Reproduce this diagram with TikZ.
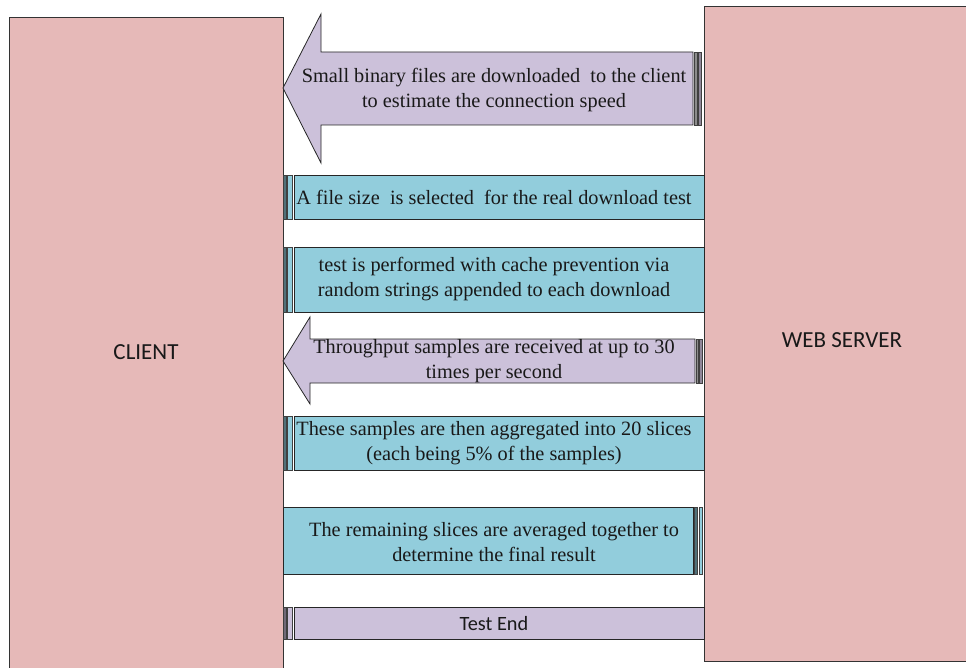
\documentclass[tikz,border=0pt]{standalone}
\usepackage{fontspec}
\setmainfont{Liberation Serif}
\newfontfamily\labelfont{Carlito}
\begin{document}
\begin{tikzpicture}[x=1pt,y=-1pt,
  party/.style={draw=black!80,line width=0.9pt,fill=pinkbox},
  flowleft/.style={draw=black!85,line width=0.8pt,fill=lilac},
  stepbox/.style={draw=black!85,line width=0.8pt},
  stripe/.style={draw=black!75,line width=0.5pt},
  msg/.style={font=\fontsize{20.3}{24.5}\selectfont,align=center,text=black!90,inner sep=0pt},
  side/.style={font=\labelfont\fontsize{23}{26}\selectfont,text=black!90}]
\definecolor{pinkbox}{HTML}{E6B9B8}
\definecolor{lilac}{HTML}{CCC1DA}
\definecolor{tealbox}{HTML}{92CDDC}
\useasboundingbox (0,0) rectangle (966,668);

% client and server columns
\begin{scope}
\clip (0,0) rectangle (966,668);
\draw[party] (9,17) rectangle (283,680);
\draw[party] (704,6) rectangle (980,661);
\end{scope}
\node[side] (client) at (146,352) {CLIENT};
\node[side] (server) at (842,340) {WEB SERVER};

% 1: striped arrow towards the client
\draw[flowleft] (283,88) -- (321,14) -- (321,52) -- (693,52) -- (693,125)
  -- (321,125) -- (321,163) -- cycle;
\draw[stripe,fill=black!45] (694.5,52) rectangle (697,125);
\draw[stripe,fill=lilac!70!black] (698.5,52) rectangle (701.5,125);
\node[msg] (m1) at (494,90) {Small binary files are downloaded\ \ to the client\\to estimate the connection speed};

% 2: file size selection
\draw[stripe,fill=tealbox!55!black] (283,175) rectangle (286,219);
\draw[stripe,fill=tealbox] (287.5,175) rectangle (292.5,219);
\draw[stepbox,fill=tealbox] (294,175) rectangle (704,219);
\node[msg] (m2) at (494,197) {A file size\ \ is selected\ \ for the real download test};

% 3: cache prevention
\draw[stripe,fill=tealbox!55!black] (283,247) rectangle (286,312);
\draw[stripe,fill=tealbox] (287.5,247) rectangle (292.5,312);
\draw[stepbox,fill=tealbox] (294,247) rectangle (704,312);
\node[msg] (m3) at (494,279) {test is performed with cache prevention via\\random strings appended to each download};

% 4: throughput samples arrow
\draw[flowleft] (283,361) -- (310,317) -- (310,339) -- (695,339) -- (695,383)
  -- (310,383) -- (310,404) -- cycle;
\draw[stripe,fill=black!45] (696,339) rectangle (698.5,383);
\draw[stripe,fill=lilac!70!black] (699.5,339) rectangle (702.5,383);
\node[msg] (m4) at (494,361) {Throughput samples are received at up to 30\\times per second};

% 5: aggregation into slices
\draw[stripe,fill=tealbox!55!black] (283,416) rectangle (286,470);
\draw[stripe,fill=tealbox] (287.5,416) rectangle (292.5,470);
\draw[stepbox,fill=tealbox] (294,416) rectangle (704,470);
\node[msg] (m5) at (494,443) {These samples are then aggregated into 20 slices\\(each being 5\% of the samples)};

% 6: averaging
\draw[stepbox,fill=tealbox] (283,507) rectangle (693,574);
\draw[stripe,fill=tealbox!55!black] (694.5,507) rectangle (697.5,574);
\draw[stripe,fill=tealbox] (699,507) rectangle (702.5,574);
\node[msg] (m6) at (494,542) {The remaining slices are averaged together to\\determine the final result};

% 7: end of test
\draw[stripe,fill=lilac!55!black] (283,607) rectangle (286,639);
\draw[stripe,fill=lilac] (287.5,607) rectangle (292.5,639);
\draw[stepbox,fill=lilac] (294,607) rectangle (704,639);
\node[font=\labelfont\fontsize{20.3}{22}\selectfont,text=black!90] (m7) at (494,624) {Test End};
\end{tikzpicture}
\end{document}
